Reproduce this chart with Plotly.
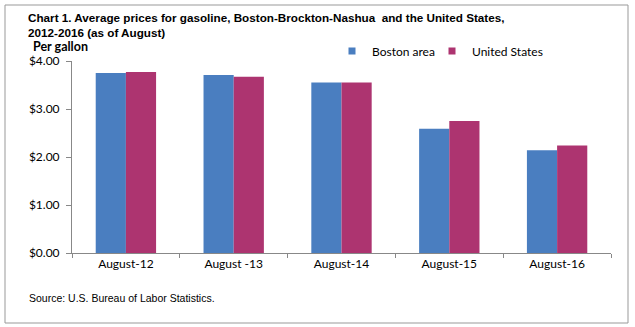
import plotly.graph_objects as go

categories = ["August-12", "August -13", "August-14", "August-15", "August-16"]
boston = [3.75, 3.71, 3.55, 2.59, 2.14]
us = [3.77, 3.67, 3.55, 2.75, 2.24]
series_names = ["Boston area", "United States"]
colors = ["#4A7EC0", "#AD3470"]
yticks = [0, 1, 2, 3, 4]
yticklabels = ["$0.00", "$1.00", "$2.00", "$3.00", "$4.00"]

W, H = 635, 327
L, R, T, B = 72, 611, 61, 253

fig = go.Figure()
legend_ids = ["legend", "legend2"]
for name, vals, c, lg in zip(series_names, [boston, us], colors, legend_ids):
    fig.add_trace(go.Bar(x=categories, y=vals, name=name, marker=dict(color=c, line=dict(width=0)),
                         showlegend=False))
    fig.add_trace(go.Scatter(x=[None], y=[None], mode="markers", name=name, legend=lg,
                             marker=dict(symbol="square", size=7, color=c)))

def px(x):
    return (x - L) / (R - L)

def py(y):
    return (B - y) / (B - T)

legend_font = dict(family="Lato, Calibri, sans-serif", size=12, color="#000")

fig.update_layout(
    width=W, height=H,
    margin=dict(l=L, r=W - R, t=T, b=H - B, pad=0, autoexpand=False),
    paper_bgcolor="white", plot_bgcolor="white",
    barmode="group", bargap=0.44, bargroupgap=0,
    font=dict(family="Lato, Calibri, sans-serif", size=12, color="#000"),
    showlegend=True,
    legend=dict(orientation="h", xref="paper", yref="paper",
                x=px(332), y=py(51), xanchor="left", yanchor="middle",
                font=legend_font, itemwidth=30, bgcolor="rgba(0,0,0,0)"),
    legend2=dict(orientation="h", xref="paper", yref="paper",
                 x=px(432), y=py(51), xanchor="left", yanchor="middle",
                 font=legend_font, itemwidth=30, bgcolor="rgba(0,0,0,0)"),
    xaxis=dict(showline=True, linecolor="#888", linewidth=1, ticks="outside",
               tickson="boundaries", ticklen=4, tickcolor="#888", automargin=False,
               tickfont=dict(family="Lato, Calibri, sans-serif", size=12), showgrid=False),
    yaxis=dict(range=[0, 4], tickvals=yticks, ticktext=yticklabels, showline=True,
               linecolor="#888", linewidth=1, ticks="outside", ticklen=5, tickcolor="#888",
               showgrid=False, zeroline=False, automargin=False, ticklabelstandoff=4,
               tickfont=dict(family="Lato, Calibri, sans-serif", size=12)),
    shapes=[dict(type="rect", xref="paper", yref="paper",
                 x0=px(5), x1=px(628), y0=py(323), y1=py(5),
                 line=dict(color="#999", width=1))],
    annotations=[
        dict(text="<b>Chart 1. Average prices for gasoline, Boston-Brockton-Nashua  and the United States,<br>2012-2016 (as of August)</b>",
             xref="paper", yref="paper", x=px(26), y=py(9), xanchor="left", yanchor="top",
             align="left", showarrow=False,
             font=dict(family="Liberation Sans, Arial, sans-serif", size=11.7, color="#000")),
        dict(text="<b>Per gallon</b>", xref="paper", yref="paper", x=px(31), y=py(46),
             xanchor="left", yanchor="middle", showarrow=False,
             font=dict(family="Lato, Calibri, sans-serif", size=12.5, color="#000")),
        dict(text="Source: U.S. Bureau of Labor Statistics.", xref="paper", yref="paper",
             x=px(27), y=py(298), xanchor="left", yanchor="middle", showarrow=False,
             font=dict(family="Liberation Sans, Arial, sans-serif", size=10.5, color="#000")),
    ],
)

fig.write_html("out.html")
